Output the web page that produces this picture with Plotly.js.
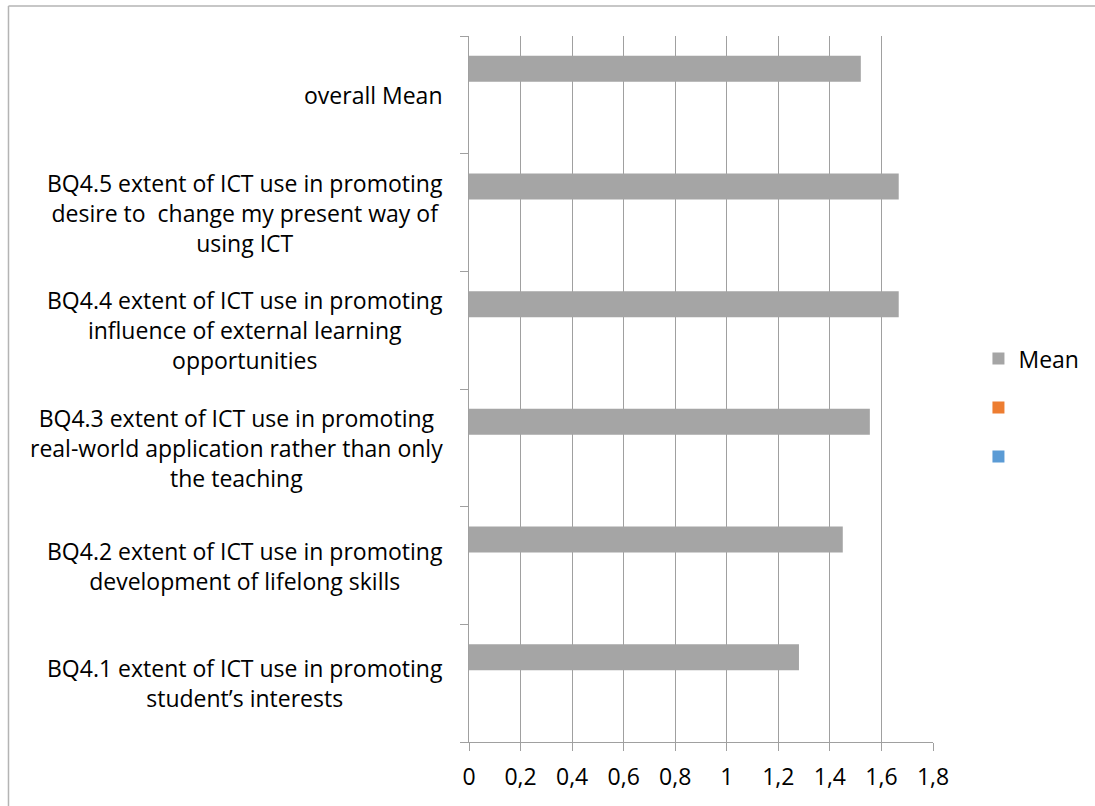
<!DOCTYPE html>
<html>
<head>
<meta charset="utf-8">
<script src="https://cdn.plot.ly/plotly-3.0.1.min.js"></script>
<style>
  html, body { margin: 0; padding: 0; background: #fff; }
  #chart { width: 1095px; height: 806px; }
</style>
</head>
<body>
<div id="chart"></div>
<script>
// Categories (bottom to top as drawn on the y axis)
const categories = [
  "BQ4.1 extent of ICT use in promoting<br>student’s interests",
  "BQ4.2 extent of ICT use in promoting<br>development of lifelong skills",
  "BQ4.3 extent of ICT use in promoting<br>real-world application rather than only<br>the teaching",
  "BQ4.4 extent of ICT use in promoting<br>influence of external learning<br>opportunities",
  "BQ4.5 extent of ICT use in promoting<br>desire to  change my present way of<br>using ICT",
  "overall Mean"
];
const meanValues = [1.28, 1.45, 1.555, 1.667, 1.667, 1.52];
const series2Values = [null, null, null, null, null, null];
const series3Values = [null, null, null, null, null, null];
const seriesNames = ["Mean", " ", " "];
const xTickValues = [0, 0.2, 0.4, 0.6, 0.8, 1, 1.2, 1.4, 1.6, 1.8];

const FONT = "'Open Sans', sans-serif";
const FS = 23;

const traces = [
  { type: "bar", orientation: "h", name: seriesNames[2], y: categories, x: series3Values,
    marker: { color: "#5b9bd5" }, legendrank: 3, legendgroup: "c", hoverinfo: "skip" },
  { type: "bar", orientation: "h", name: seriesNames[1], y: categories, x: series2Values,
    marker: { color: "#ed7d31" }, legendrank: 2, legendgroup: "b", hoverinfo: "skip" },
  { type: "bar", orientation: "h", name: seriesNames[0], y: categories, x: meanValues,
    marker: { color: "#a5a5a5" }, legendrank: 1, legendgroup: "a" }
];

// plot area pixel geometry
const L = 469, R = 934.5, T = 36, B = 741.7, W = 1095, H = 806;
const pw = R - L, ph = B - T;
const px = v => (v - L) / pw;
const py = v => (B - v) / ph;

// category labels, centred multi-line text placed on the category axis
const labelAnnotations = categories.map(c => ({
  xref: "paper", yref: "y", x: px(445), y: c,
  xanchor: "right", yanchor: "middle", align: "center",
  text: c, showarrow: false,
  font: { family: FONT, size: FS, color: "#000" }
}));

const layout = {
  width: W, height: H, autosize: false,
  margin: { l: L, r: W - R, t: T, b: H - B, pad: 0 },
  paper_bgcolor: "#fff", plot_bgcolor: "#fff",
  font: { family: FONT, size: FS, color: "#000" },
  separators: ", ",
  barmode: "group", bargap: 0.337, bargroupgap: 0,
  showlegend: true,
  legend: {
    x: px(979), xanchor: "left", y: py(407.5), yanchor: "middle",
    font: { family: FONT, size: FS, color: "#000" },
    tracegroupgap: 16, bgcolor: "rgba(0,0,0,0)", borderwidth: 0
  },
  xaxis: {
    range: [0, 1.8], tickmode: "array", tickvals: xTickValues,
    showgrid: true, gridcolor: "#a0a0a0", gridwidth: 1,
    zeroline: false, showline: true, linecolor: "#a0a0a0", linewidth: 1,
    ticks: "outside", ticklen: 8, tickcolor: "#a0a0a0", tickwidth: 1,
    ticklabelstandoff: 6,
    tickfont: { family: FONT, size: FS, color: "#000" }, fixedrange: true
  },
  yaxis: {
    type: "category", categoryorder: "array", categoryarray: categories,
    showgrid: false, zeroline: false, showline: true, linecolor: "#a0a0a0", linewidth: 1,
    ticks: "outside", ticklen: 8, tickcolor: "#a0a0a0", tickwidth: 1, tickson: "boundaries",
    showticklabels: false, fixedrange: true
  },
  annotations: labelAnnotations,
  shapes: [
    { type: "line", xref: "paper", yref: "paper", x0: px(7), x1: px(7), y0: py(6), y1: py(820),
      line: { color: "#b4b4b4", width: 1.5 } },
    { type: "line", xref: "paper", yref: "paper", x0: px(7), x1: px(1100), y0: py(6), y1: py(6),
      line: { color: "#b4b4b4", width: 1.5 } }
  ]
};

Plotly.newPlot("chart", traces, layout, { staticPlot: true, displayModeBar: false });
</script>
</body>
</html>
